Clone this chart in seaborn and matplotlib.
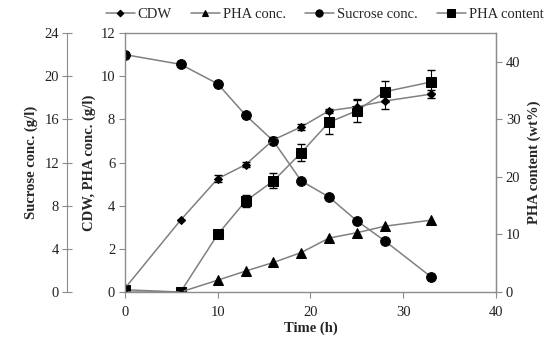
import matplotlib
matplotlib.use("Agg")
import matplotlib.pyplot as plt
import seaborn as sns
import pandas as pd
import numpy as np

time_h = [0, 6, 10, 13, 16, 19, 22, 25, 28, 33]
cdw = [0.17, 3.33, 5.25, 5.9, 7.05, 7.65, 8.4, 8.58, 8.85, 9.17]
cdw_err = [0.0, 0.0, 0.15, 0.12, 0.15, 0.15, 0.1, 0.3, 0.35, 0.2]
pha_conc = [0.0, 0.0, 0.55, 0.97, 1.37, 1.83, 2.5, 2.75, 3.05, 3.33]
sucrose = [22.0, 21.1, 19.3, 16.4, 14.0, 10.3, 8.8, 6.6, 4.75, 1.4]
pha_content = [0.4, 0.0, 10.0, 15.8, 19.3, 24.2, 29.5, 31.5, 34.8, 36.5]
pha_content_err = [0.0, 0.0, 0.0, 1.0, 1.3, 1.5, 2.0, 2.0, 1.8, 2.0]

sns.set_style("white")
plt.rcParams['font.family'] = ['Liberation Serif', 'DejaVu Serif']
plt.rcParams['font.size'] = 10.5

df = pd.DataFrame({"time": time_h, "cdw": cdw, "pha": pha_conc,
                   "suc": sucrose, "content": pha_content})

fig = plt.figure(figsize=(5.5, 3.44), dpi=100)
ax = fig.add_axes([0.227, 0.151, 0.675, 0.753])
ax_s = ax.twinx()
ax_r = ax.twinx()

line_c = "#808080"
spine_c = "#8c8c8c"
txt_c = "#222222"

sns.lineplot(data=df, x="time", y="cdw", ax=ax, color=line_c, marker="D",
             markersize=4.5, markerfacecolor="black", markeredgecolor="black",
             lw=1.1, label="CDW", legend=False)
ax.errorbar(time_h, cdw, yerr=cdw_err, fmt="none", ecolor="black", elinewidth=0.8, capsize=3)
sns.lineplot(data=df, x="time", y="pha", ax=ax, color=line_c, marker="^",
             markersize=6.5, markerfacecolor="black", markeredgecolor="black",
             lw=1.1, label="PHA conc.", legend=False)

sns.lineplot(data=df, x="time", y="suc", ax=ax_s, color=line_c, marker="o",
             markersize=7, markerfacecolor="black", markeredgecolor="black",
             lw=1.1, label="Sucrose conc.", legend=False)
sns.lineplot(data=df, x="time", y="content", ax=ax_r, color=line_c, marker="s",
             markersize=7.5, markerfacecolor="black", markeredgecolor="black",
             lw=1.1, label="PHA content", legend=False)
ax_r.errorbar(time_h, pha_content, yerr=pha_content_err, fmt="none", ecolor="black",
              elinewidth=0.8, capsize=3)

ax.set_xlim(0, 40)
ax.set_ylim(0, 12)
ax.set_xticks([0, 10, 20, 30, 40])
ax.set_yticks(range(0, 13, 2))
ax_s.set_ylim(0, 24)
ax_s.set_yticks(range(0, 25, 4))
ax_r.set_ylim(0, 45)
ax_r.set_yticks(range(0, 41, 10))

ax_s.yaxis.set_label_position("left")
ax_s.yaxis.set_ticks_position("left")
ax_s.spines["left"].set_position(("outward", 41.8))
for s in ["right", "top", "bottom"]:
    ax_s.spines[s].set_visible(False)
ax_s.spines["left"].set_visible(True)
ax_s.spines["left"].set_color(spine_c)
ax_s.tick_params(axis="y", direction="inout", length=7, color=spine_c, pad=2,
                 labelsize=10.5, labelcolor=txt_c)

for s in ["left", "right", "top", "bottom"]:
    ax.spines[s].set_color(spine_c)
    ax.spines[s].set_linewidth(1.0)
ax.tick_params(axis="y", direction="out", length=4, color=spine_c, pad=3,
               labelsize=10.5, labelcolor=txt_c)
ax.tick_params(axis="x", direction="out", length=4, color=spine_c, pad=6,
               labelsize=10.5, labelcolor=txt_c)
ax.tick_params(left=True, bottom=True)
ax_r.spines["right"].set_color(spine_c)
for s in ["left", "top", "bottom"]:
    ax_r.spines[s].set_visible(False)
ax_r.tick_params(axis="y", direction="out", length=4, color=spine_c, pad=3, right=True,
                 labelsize=10.5, labelcolor=txt_c)

ax.set_xlabel("Time (h)", fontweight="bold", labelpad=2, fontsize=10.5)
ax.set_ylabel("CDW, PHA conc. (g/l)", fontweight="bold", labelpad=3, fontsize=10.5)
ax_s.set_ylabel("Sucrose conc. (g/l)", fontweight="bold", labelpad=5, fontsize=10.5)
ax_r.set_ylabel("PHA content (wt%)", fontweight="bold", labelpad=5, fontsize=10.5)

handles = []
for a in (ax, ax_s, ax_r):
    h, l = a.get_legend_handles_labels()
    for hh, ll in zip(h, l):
        if ll in ("CDW", "PHA conc.", "Sucrose conc.", "PHA content"):
            handles.append((hh, ll))
fig.legend([h for h, _ in handles], [l for _, l in handles], loc="upper center",
           bbox_to_anchor=(0.59, 1.01), ncol=4, frameon=False, handlelength=2.0,
           columnspacing=1.3, handletextpad=0.2, fontsize=10.5, borderpad=0.3,
           markerscale=0.75)

ax.set_zorder(ax_r.get_zorder() + 1)
ax.patch.set_visible(False)

fig.savefig("out.png", dpi=100)
